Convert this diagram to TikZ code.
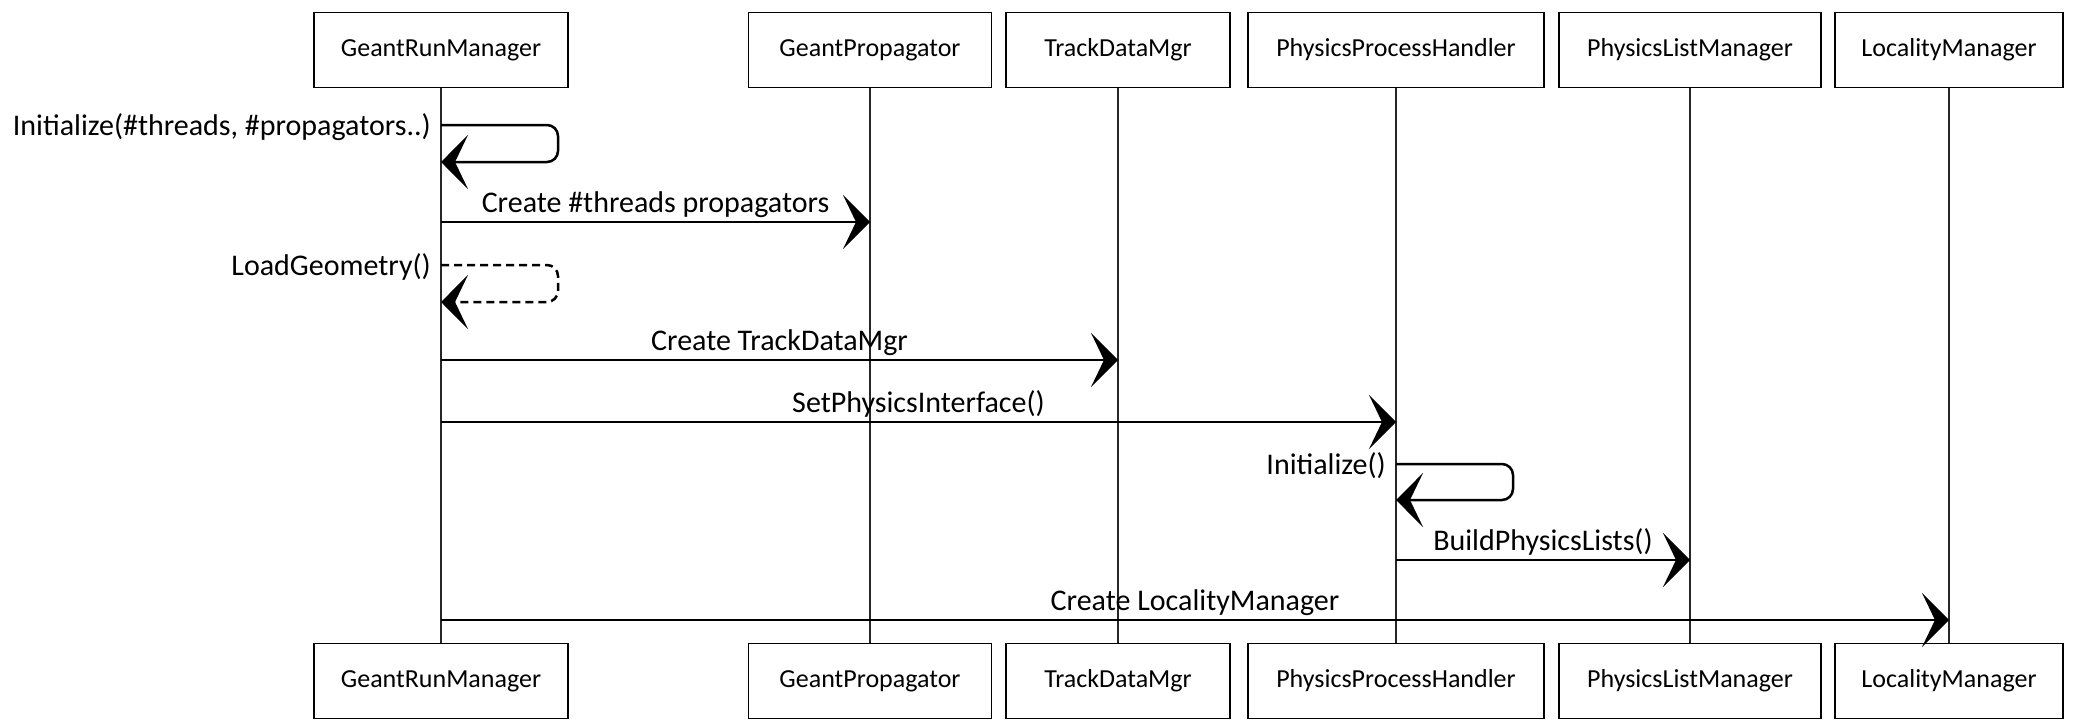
\documentclass[tikz,border=0pt]{standalone}
\usepackage{fontspec}
\setmainfont{Carlito}
\usetikzlibrary{arrows.meta}
\begin{document}
\begin{tikzpicture}[x=1pt,y=-1pt,
  actor/.style={draw=black, line width=1.7pt, minimum height=75pt, inner sep=0pt,
                font=\fontsize{26}{30}\selectfont},
  life/.style={draw=black!85, line width=1.1pt},
  msg/.style={draw=black, line width=2.5pt,
              -{Stealth[length=27pt,width=54pt,inset=13pt]}},
  ret/.style={msg, dash pattern=on 8pt off 5pt},
  lbl/.style={font=\fontsize{30}{33}\selectfont, inner sep=2pt}
]
\useasboundingbox (0,0) rectangle (2075,720);

% participants, top row
\node[actor, minimum width=254pt] (grm) at (441,50)  {GeantRunManager};
\node[actor, minimum width=243pt] (gp)  at (870,50)  {GeantPropagator};
\node[actor, minimum width=224pt] (tdm) at (1118,50) {TrackDataMgr};
\node[actor, minimum width=296pt] (pph) at (1396,50) {PhysicsProcessHandler};
\node[actor, minimum width=262pt] (plm) at (1690,50) {PhysicsListManager};
\node[actor, minimum width=228pt] (lm)  at (1949,50) {LocalityManager};

% participants, bottom row
\node[actor, minimum width=254pt] (grmB) at (441,681)  {GeantRunManager};
\node[actor, minimum width=243pt] (gpB)  at (870,681)  {GeantPropagator};
\node[actor, minimum width=224pt] (tdmB) at (1118,681) {TrackDataMgr};
\node[actor, minimum width=296pt] (pphB) at (1396,681) {PhysicsProcessHandler};
\node[actor, minimum width=262pt] (plmB) at (1690,681) {PhysicsListManager};
\node[actor, minimum width=228pt] (lmB)  at (1949,681) {LocalityManager};

% lifelines
\draw[life] (grm) -- (grmB);
\draw[life] (gp)  -- (gpB);
\draw[life] (tdm) -- (tdmB);
\draw[life] (pph) -- (pphB);
\draw[life] (plm) -- (plmB);
\draw[life] (lm)  -- (lmB);

% message anchors on the lifelines
\coordinate (i1a) at (grm |- 0,125);
\coordinate (i1b) at (grm |- 0,162);
\coordinate (c2a) at (grm |- 0,222);
\coordinate (c2b) at (gp  |- 0,222);
\coordinate (l3a) at (grm |- 0,265);
\coordinate (l3b) at (grm |- 0,302);
\coordinate (c4a) at (grm |- 0,360);
\coordinate (c4b) at (tdm |- 0,360);
\coordinate (s5a) at (grm |- 0,422);
\coordinate (s5b) at (pph |- 0,422);
\coordinate (i6a) at (pph |- 0,464);
\coordinate (i6b) at (pph |- 0,500);
\coordinate (b7a) at (pph |- 0,560);
\coordinate (b7b) at (plm |- 0,560);
\coordinate (c8a) at (grm |- 0,620);
\coordinate (c8b) at (lm  |- 0,620);

% messages
\draw[msg, rounded corners=11pt] (i1a) -- ++(117,0) |- (i1b);
\node[lbl, anchor=east] at ([xshift=-8pt,yshift=-2pt] i1a) {Initialize(\#threads, \#propagators..)};

\draw[msg] (c2a) -- (c2b) node[lbl, midway, above=1pt] {Create \#threads propagators};

\draw[ret, rounded corners=11pt] (l3a) -- ++(117,0) |- (l3b);
\node[lbl, anchor=east] at ([xshift=-8pt,yshift=-2pt] l3a) {LoadGeometry()};

\draw[msg] (c4a) -- (c4b) node[lbl, midway, above=1pt] {Create TrackDataMgr};

\draw[msg] (s5a) -- (s5b) node[lbl, midway, above=1pt] {SetPhysicsInterface()};

\draw[msg, rounded corners=11pt] (i6a) -- ++(117,0) |- (i6b);
\node[lbl, anchor=east] at ([xshift=-8pt,yshift=-2pt] i6a) {Initialize()};

\draw[msg] (b7a) -- (b7b) node[lbl, midway, above=1pt] {BuildPhysicsLists()};

\draw[msg] (c8a) -- (c8b) node[lbl, midway, above=1pt] {Create LocalityManager};
\end{tikzpicture}
\end{document}
